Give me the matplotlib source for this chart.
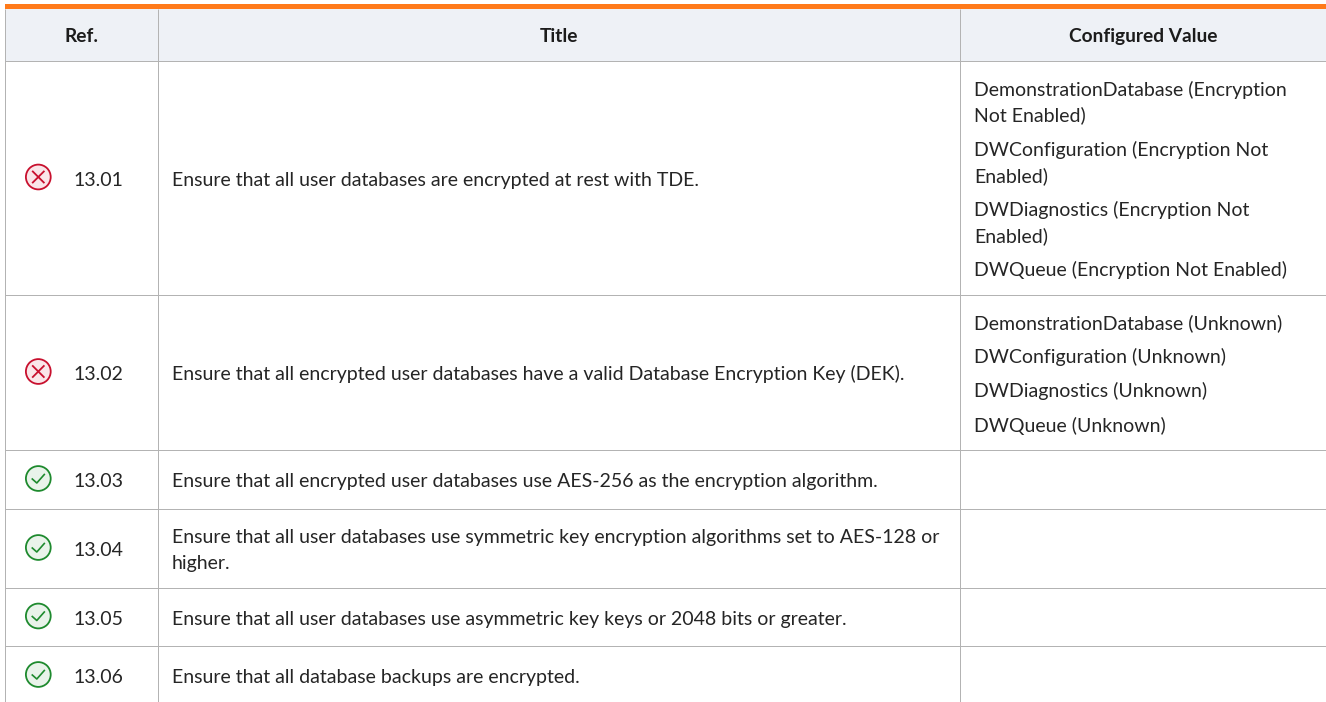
import matplotlib
matplotlib.use('Agg')
import matplotlib.pyplot as plt
from matplotlib.patches import Circle, Rectangle

headers = ['Ref.', 'Title', 'Configured Value']
refs = ['13.01', '13.02', '13.03', '13.04', '13.05', '13.06']
passed = [False, False, True, True, True, True]
titles = [
    'Ensure that all user databases are encrypted at rest with TDE.',
    'Ensure that all encrypted user databases have a valid Database Encryption Key (DEK).',
    'Ensure that all encrypted user databases use AES-256 as the encryption algorithm.',
    'Ensure that all user databases use symmetric key encryption algorithms set to AES-128 or\nhigher.',
    'Ensure that all user databases use asymmetric key keys or 2048 bits or greater.',
    'Ensure that all database backups are encrypted.',
]
values = [
    ['DemonstrationDatabase (Encryption\nNot Enabled)',
     'DWConfiguration (Encryption Not\nEnabled)',
     'DWDiagnostics (Encryption Not\nEnabled)',
     'DWQueue (Encryption Not Enabled)'],
    ['DemonstrationDatabase (Unknown)',
     'DWConfiguration (Unknown)',
     'DWDiagnostics (Unknown)',
     'DWQueue (Unknown)'],
    [], [], [], [],
]

# layout, in pixels of the reference
W, H = 1326, 702
LEFT = 5
COL_X = [158, 960]
HEAD_TOP, HEAD_BOT = 9, 61
ROW_Y = [61, 295, 450, 509, 588, 646, 705]  # last row is cut off by the canvas
LINE_H = 26
PARA_GAP = 8.2
BASE = 7.4  # row middle to text baseline
FONT = 'Lato'
FS = 14
GRID = '#b3b3b3'
INK = '#252525'

fig = plt.figure(figsize=(W / 100, H / 100), dpi=100)
ax = fig.add_axes([0, 0, 1, 1])
ax.set_xlim(0, W)
ax.set_ylim(H, 0)
ax.axis('off')

ax.add_patch(Rectangle((LEFT, HEAD_TOP), W - LEFT, HEAD_BOT - HEAD_TOP, fc='#eef1f6', ec='none'))
ax.add_patch(Rectangle((LEFT, 4), W - LEFT, 5, fc='#ff7a1a', ec='none', zorder=3))

for x in [LEFT] + COL_X:
    ax.plot([x, x], [HEAD_TOP, H], color=GRID, lw=0.72, solid_capstyle='butt')
for y in ROW_Y[:-1]:
    ax.plot([LEFT, W], [y, y], color=GRID, lw=0.72, solid_capstyle='butt')

head_x = [(LEFT + COL_X[0]) / 2 + 0.5, (COL_X[0] + COL_X[1]) / 2 + 0.5, (COL_X[1] + W) / 2 + 0.5]
for x, h in zip(head_x, headers):
    ax.text(x, 41.7, h, ha='center', va='baseline', family=FONT, fontsize=13.8,
            fontweight='bold', color='#1c1c1c')


def put_line(x, y, text):
    ax.text(x, y, text, ha='left', va='baseline', family=FONT, fontsize=FS, color=INK)


def status_icon(cx, cy, ok):
    col = '#1e8a2e' if ok else '#c8102e'
    face = '#e9f3ea' if ok else '#fae6e9'
    ax.add_patch(Circle((cx, cy), 12.4, fc=face, ec=col, lw=1.3, zorder=4))
    if ok:
        ax.plot([cx - 6, cx - 1.5, cx + 6], [cy + 0.5, cy + 4.5, cy - 4], color=col, lw=1.2, zorder=5)
    else:
        ax.plot([cx - 5.5, cx + 5.5], [cy - 5.5, cy + 5.5], color=col, lw=1.3, zorder=5)
        ax.plot([cx - 5.5, cx + 5.5], [cy + 5.5, cy - 5.5], color=col, lw=1.3, zorder=5)


for i, ref in enumerate(refs):
    mid = (ROW_Y[i] + ROW_Y[i + 1]) / 2 + 0.5
    status_icon(38.3, mid - 1.5, passed[i])
    put_line(73.3, mid + BASE, ref)

    parts = titles[i].split('\n')
    y = mid + BASE - LINE_H * (len(parts) - 1) / 2
    for part in parts:
        put_line(172, y, part)
        y += LINE_H

    # value paragraphs stacked and centred in the row
    lines = [(p, n) for n, para in enumerate(values[i]) for p in para.split('\n')]
    if lines:
        total = LINE_H * (len(lines) - 1) + PARA_GAP * (len(values[i]) - 1)
        y = mid + BASE - total / 2
        prev = 0
        for text, para in lines:
            if para != prev:
                y += PARA_GAP
                prev = para
            put_line(974, y, text)
            y += LINE_H

fig.savefig('out.png', dpi=100)
